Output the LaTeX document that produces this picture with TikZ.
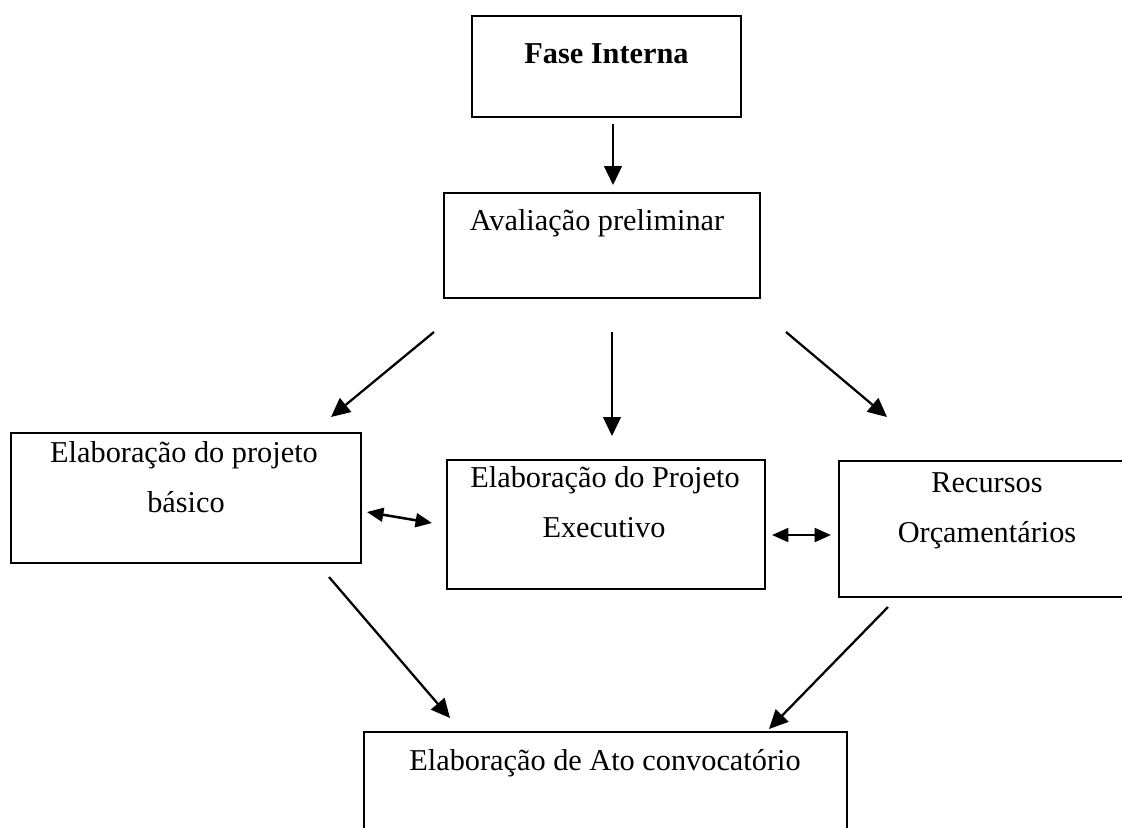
\documentclass[tikz,border=0pt]{standalone}
\usepackage{fontspec}
\setmainfont{Liberation Serif}
\usetikzlibrary{arrows.meta,calc}
\newdimen\pxu
\pxu=0.396pt

\tikzset{
  caixa/.style={draw, line width=0.9pt, rectangle, inner sep=0pt, outer sep=0pt},
  texto/.style={anchor=base, inner sep=0pt, font=\fontsize{12}{14}\selectfont},
  seta/.style={-{Triangle[length=7.5pt,width=7pt]}, line width=0.9pt},
  setadupla/.style={{Triangle[length=6.5pt,width=5.5pt]}-{Triangle[length=6.5pt,width=5.5pt]}, line width=1pt}
}

\begin{document}
\begin{tikzpicture}[x=0.396pt, y=-0.396pt]
            \useasboundingbox (0,0) rectangle (1122,827);
            \clip (0,0) rectangle (1122,827);

            % Boxes
            \node[caixa, minimum width=269\pxu, minimum height=101\pxu] (fase) at (606.5,66.5) {};
            \node[caixa, minimum width=316\pxu, minimum height=105\pxu] (aval) at (602,245.5) {};
            \node[caixa, minimum width=350\pxu, minimum height=130\pxu] (basico) at (186,498) {};
            \node[caixa, minimum width=318\pxu, minimum height=129\pxu] (exec) at (606,524.5) {};
            \node[caixa, minimum width=296\pxu, minimum height=136\pxu] (recursos) at (987,529) {};
            \node[caixa, minimum width=483\pxu, minimum height=128\pxu] (ato) at (605.5,796) {};

            % Texts
            \node[texto] (fase-t) at (fase.center |- 0,63) {\textbf{Fase Interna}};
            \node[texto] (aval-t) at (597,230) {Avaliação preliminar};
            \node[texto] (basico-t1) at (184,462) {Elaboração do projeto};
            \node[texto] (basico-t2) at (186,512) {básico};
            \node[texto] (exec-t1) at (605,487) {Elaboração do Projeto};
            \node[texto] (exec-t2) at (604,537) {Executivo};
            \node[texto] (recursos-t1) at (987,492) {Recursos};
            \node[texto] (recursos-t2) at (987,542) {Orçamentários};
            \node[texto] (ato-t) at (605,770) {Elaboração de Ato convocatório};

            % Arrows
            \draw[seta] ($(fase.south)+(6.5,7)$) -- ($(aval.north)+(11,-8)$);
            \draw[seta] ($(aval.south west)+(-10,34)$) -- ($(basico.north east)+(-30,-16)$);
            \draw[seta] ($(aval.south)+(10,34)$) -- ($(exec.north)+(6,-24)$);
            \draw[seta] ($(aval.south east)+(26,34)$) -- ($(recursos.north west)+(48,-44)$);
            \draw[seta] ($(basico.south east)+(-32,14)$) -- ($(ato.north west)+(86,-14)$);
            \draw[seta] ($(recursos.south west)+(49,10)$) -- ($(ato.north east)+(-78,-3)$);

            % Double arrows
            \draw[setadupla] ($(basico.east)+(6,14)$) -- ($(exec.west)+(-15,-1.5)$);
            \draw[setadupla] ($(exec.east)+(7,10.5)$) -- ($(recursos.west)+(-8,6)$);
        \end{tikzpicture}
\end{document}
